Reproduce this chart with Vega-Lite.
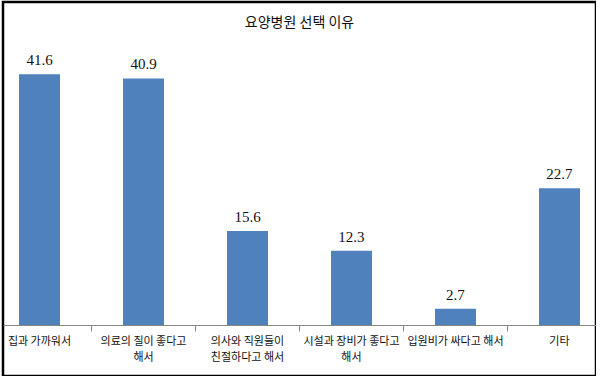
{
  "$schema": "https://vega.github.io/schema/vega-lite/v6.json",
  "autosize": {"type": "none"},
  "padding": {"left": 3, "top": 2, "right": 0, "bottom": 0},
  "width": 593,
  "height": 374,
  "background": "white",
  "config": {"view": {"stroke": "#000000", "strokeWidth": 2.5}},
  "title": {
    "text": "요양병원 선택 이유",
    "font": "Noto Sans CJK KR",
    "fontSize": 14,
    "fontWeight": "normal",
    "color": "#111111",
    "frame": "group",
    "anchor": "middle",
    "offset": -42,
    "baseline": "bottom"
  },
  "data": {
    "values": [
      {"reason": "집과 가까워서", "value": 41.6},
      {"reason": "의료의 질이 좋다고 해서", "value": 40.9},
      {"reason": "의사와 직원들이 친절하다고 해서", "value": 15.6},
      {"reason": "시설과 장비가 좋다고 해서", "value": 12.3},
      {"reason": "입원비가 싸다고 해서", "value": 2.7},
      {"reason": "기타", "value": 22.7}
    ]
  },
  "encoding": {
    "x": {
      "field": "reason",
      "type": "nominal",
      "sort": null,
      "scale": {"paddingInner": 0.606, "paddingOuter": 0.154},
      "axis": {
        "title": null,
        "labelAngle": 0,
        "offset": -51,
        "domainColor": "#868686",
        "domainWidth": 1,
        "tickColor": "#868686",
        "tickSize": 6,
        "bandPosition": 1.768,
        "labelFont": "Noto Sans CJK KR",
        "labelFontSize": 11,
        "labelColor": "#111111",
        "labelPadding": 4,
        "labelLineHeight": 16,
        "labelBaseline": "top",
        "labelOverlap": false,
        "labelExpr": "datum.label == '의료의 질이 좋다고 해서' ? ['의료의 질이 좋다고', '해서'] : datum.label == '의사와 직원들이 친절하다고 해서' ? ['의사와 직원들이', '친절하다고 해서'] : datum.label == '시설과 장비가 좋다고 해서' ? ['시설과 장비가 좋다고', '해서'] : datum.label"
      }
    },
    "y": {
      "field": "value",
      "type": "quantitative",
      "scale": {"domain": [-8.46, 53.57], "nice": false},
      "axis": null
    }
  },
  "layer": [
    {"mark": {"type": "bar", "color": "#4F81BD"}},
    {
      "mark": {"type": "text", "dy": -9, "baseline": "alphabetic", "font": "Liberation Serif", "fontSize": 15, "color": "#111111"},
      "encoding": {"text": {"field": "value", "type": "quantitative", "format": ".1f"}}
    }
  ]
}
